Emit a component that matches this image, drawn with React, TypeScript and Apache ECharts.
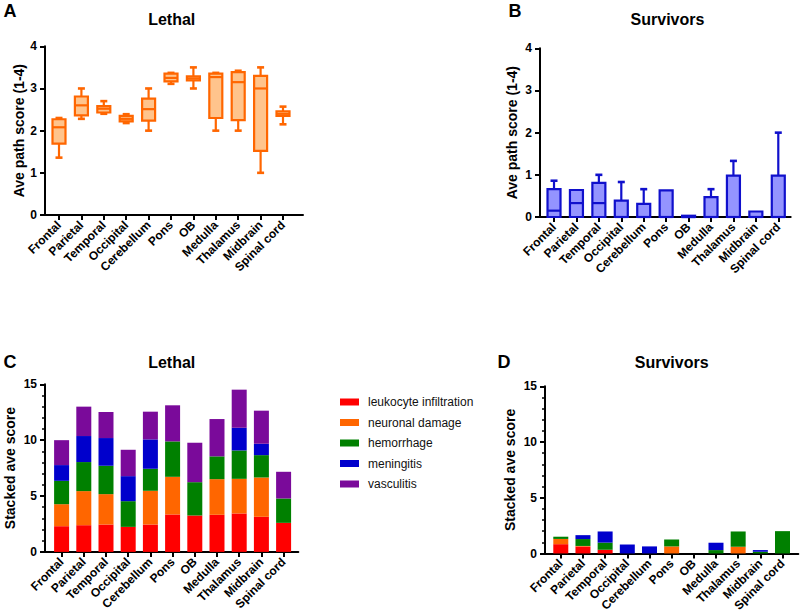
import React, { useEffect, useRef } from "react";
import * as echarts from "echarts";

const regions = ["Frontal", "Parietal", "Temporal", "Occipital", "Cerebellum", "Pons", "OB", "Medulla", "Thalamus", "Midbrain", "Spinal cord"];

// [min, q1, median, q3, max]
const lethalBox = [
  [1.36, 1.69, 2.08, 2.27, 2.3],
  [2.28, 2.36, 2.6, 2.81, 3.0],
  [2.4, 2.43, 2.52, 2.58, 2.7],
  [2.18, 2.22, 2.28, 2.35, 2.39],
  [2.0, 2.24, 2.51, 2.76, 3.0],
  [3.11, 3.17, 3.25, 3.35, 3.37],
  [3.0, 3.19, 3.24, 3.29, 3.5],
  [2.0, 2.3, 3.27, 3.35, 3.37],
  [2.0, 2.25, 3.15, 3.39, 3.42],
  [1.0, 1.52, 3.0, 3.3, 3.5],
  [2.15, 2.35, 2.4, 2.46, 2.57],
];
const survivorBox = [
  [0, 0, 0.15, 0.66, 0.86],
  [0, 0, 0.33, 0.64, 0.64],
  [0, 0, 0.33, 0.81, 1.0],
  [0, 0, 0, 0.39, 0.83],
  [0, 0, 0, 0.31, 0.66],
  [0, 0, 0, 0.63, 0.63],
  [0, 0, 0, 0.03, 0.03],
  [0, 0, 0, 0.47, 0.66],
  [0, 0, 0, 0.98, 1.33],
  [0, 0, 0, 0.13, 0.13],
  [0, 0, 0, 0.98, 2.0],
];

const pathology = ["leukocyte infiltration", "neuronal damage", "hemorrhage", "meningitis", "vasculitis"];
const pathColors = ["#FF0000", "#FF6600", "#008000", "#0000CC", "#7A0A9A"];

const lethalLeukocyte = [2.3, 2.39, 2.45, 2.24, 2.45, 3.35, 3.26, 3.32, 3.44, 3.14, 2.6];
const lethalNeuronal = [1.97, 3.05, 2.72, 0, 3.02, 3.37, 0, 3.19, 3.1, 3.52, 0];
const lethalHemorrhage = [2.09, 2.6, 2.54, 2.3, 1.97, 3.17, 2.98, 2.04, 2.54, 2.0, 2.18];
const lethalMeningitis = [1.41, 2.33, 2.48, 2.24, 2.63, 0, 0, 0, 2.03, 1.02, 0];
const lethalVasculitis = [2.23, 2.63, 2.33, 2.36, 2.48, 3.23, 3.53, 3.34, 3.41, 2.96, 2.39];

const survLeukocyte = [0.83, 0.62, 0.33, 0, 0, 0, 0, 0, 0, 0, 0];
const survNeuronal = [0.47, 0.05, 0, 0, 0, 0.63, 0, 0, 0.6, 0, 0];
const survHemorrhage = [0.2, 0.62, 0.64, 0, 0, 0.62, 0, 0.3, 1.37, 0.15, 2.0];
const survMeningitis = [0, 0.35, 1.0, 0.8, 0.63, 0, 0, 0.66, 0, 0.15, 0];
const survVasculitis = [0, 0, 0, 0, 0, 0, 0, 0, 0, 0, 0];

const FONT = "'Liberation Sans', Arial, sans-serif";

export default function App() {
  const ref = useRef<HTMLDivElement>(null);
  useEffect(() => {
    if (!ref.current) return;
    const chart = echarts.init(ref.current, null, { renderer: "svg" });

    const frames = [
      { left: 45, top: 46.3, width: 258, height: 168.7 },
      { left: 540, top: 48.3, width: 250.7, height: 168.7 },
      { left: 45, top: 384.3, width: 253.3, height: 167.6 },
      { left: 545, top: 386.3, width: 253.3, height: 167.2 },
    ];
    const datas = [
      { left: 47.8, top: 46.3, width: 246.4, height: 168.7 },
      { left: 542.8, top: 48.3, width: 246.7, height: 168.7 },
      { left: 50.5, top: 384.3, width: 244.2, height: 167.6 },
      { left: 549.7, top: 386.3, width: 243.9, height: 167.2 },
    ];
    const yMax = [4, 4, 15, 15];
    const yInt = [1, 1, 5, 5];
    const yNames = ["Ave path score (1-4)", "Ave path score (1-4)", "Stacked ave score", "Stacked ave score"];
    const nameGaps = [19, 21, 28, 28];

    const grid: any[] = [];
    const xAxis: any[] = [];
    const yAxis: any[] = [];
    for (let i = 0; i < 4; i++) {
      grid.push(frames[i]);
      grid.push(datas[i]);
      xAxis.push({
        gridIndex: 2 * i, type: "value", min: 0, max: 1,
        axisLine: { show: true, lineStyle: { color: "#000", width: 2 } },
        axisTick: { show: false }, axisLabel: { show: false }, splitLine: { show: false },
      });
      yAxis.push({
        gridIndex: 2 * i, type: "value", min: 0, max: yMax[i], interval: yInt[i],
        name: yNames[i], nameLocation: "middle", nameGap: nameGaps[i],
        nameTextStyle: { fontFamily: FONT, fontWeight: "bold", fontSize: 14, color: "#000" },
        axisLine: { show: true, lineStyle: { color: "#000", width: 2 } },
        axisTick: { show: true, length: 5, lineStyle: { color: "#000", width: 2 } },
        minorTick: { show: i >= 2, splitNumber: 5, length: 3, lineStyle: { color: "#000", width: 1.5 } },
        axisLabel: { fontFamily: FONT, fontWeight: "bold", fontSize: 12, color: "#000", margin: 8 },
        splitLine: { show: false },
      });
      xAxis.push({
        gridIndex: 2 * i + 1, type: "category", data: regions, boundaryGap: true,
        axisLine: { show: false },
        axisTick: { show: true, alignWithLabel: true, length: 5, lineStyle: { color: "#000", width: 2 } },
        axisLabel: { rotate: 45, interval: 0, fontFamily: FONT, fontWeight: "bold", fontSize: 12, color: "#000", margin: 8 },
        splitLine: { show: false },
      });
      yAxis.push({ gridIndex: 2 * i + 1, type: "value", min: 0, max: yMax[i], show: false, splitLine: { show: false } });
    }

    const boxSeries = (data: number[][], axisIdx: number, stroke: string, fill: string) => ({
      type: "custom",
      xAxisIndex: axisIdx, yAxisIndex: axisIdx,
      dimensions: ["x", "min", "q1", "med", "q3", "max"],
      encode: { x: 0, y: [1, 2, 3, 4, 5] },
      data: data.map((d, i) => [i, ...d]),
      renderItem: (params: any, api: any) => {
        const x = api.value(0);
        const lo = api.coord([x, api.value(1)]);
        const q1 = api.coord([x, api.value(2)]);
        const md = api.coord([x, api.value(3)]);
        const q3 = api.coord([x, api.value(4)]);
        const hi = api.coord([x, api.value(5)]);
        const cx = lo[0];
        const bw = 13;
        const cw = 7;
        const ls = { stroke, lineWidth: 2.2 };
        const children: any[] = [];
        if (hi[1] < q3[1] - 0.5) {
          children.push({ type: "line", shape: { x1: cx, y1: q3[1], x2: cx, y2: hi[1] }, style: ls });
          children.push({ type: "line", shape: { x1: cx - cw / 2, y1: hi[1], x2: cx + cw / 2, y2: hi[1] }, style: { stroke, lineWidth: 2.6 } });
        }
        if (lo[1] > q1[1] + 0.5) {
          children.push({ type: "line", shape: { x1: cx, y1: q1[1], x2: cx, y2: lo[1] }, style: ls });
          children.push({ type: "line", shape: { x1: cx - cw / 2, y1: lo[1], x2: cx + cw / 2, y2: lo[1] }, style: { stroke, lineWidth: 2.6 } });
        }
        children.push({ type: "rect", shape: { x: cx - bw / 2, y: q3[1], width: bw, height: Math.max(q1[1] - q3[1], 0.5) }, style: { fill, stroke, lineWidth: 2.2 } });
        children.push({ type: "line", shape: { x1: cx - bw / 2, y1: md[1], x2: cx + bw / 2, y2: md[1] }, style: ls });
        return { type: "group", children };
      },
    });

    const lethalStacks = [lethalLeukocyte, lethalNeuronal, lethalHemorrhage, lethalMeningitis, lethalVasculitis];
    const survStacks = [survLeukocyte, survNeuronal, survHemorrhage, survMeningitis, survVasculitis];
    const barSeries: any[] = [];
    lethalStacks.forEach((arr, k) => {
      barSeries.push({ type: "bar", name: pathology[k], stack: "lethal", xAxisIndex: 5, yAxisIndex: 5, barWidth: 15, data: arr, itemStyle: { color: pathColors[k] } });
    });
    survStacks.forEach((arr, k) => {
      barSeries.push({ type: "bar", name: pathology[k], stack: "surv", xAxisIndex: 7, yAxisIndex: 7, barWidth: 15, data: arr, itemStyle: { color: pathColors[k] } });
    });

    const txt = (text: string, x: number, y: number, size: number) => ({
      type: "text", x, y,
      style: { text, font: `bold ${size}px ${FONT}`, fill: "#000", textAlign: "center", textVerticalAlign: "middle" },
    });

    chart.setOption({
      animation: false,
      backgroundColor: "#fff",
      grid,
      xAxis,
      yAxis,
      legend: {
        data: pathology,
        orient: "vertical",
        left: 340,
        top: 395,
        padding: 0,
        itemWidth: 19,
        itemHeight: 7,
        itemGap: 6.5,
        icon: "rect",
        textStyle: { fontFamily: FONT, fontSize: 12, color: "#111", padding: [0, 0, 0, 4], lineHeight: 14 },
      },
      graphic: [
        txt("A", 10, 11, 18),
        txt("B", 515, 11, 18),
        txt("C", 10, 362, 18),
        txt("D", 504, 362, 18),
        txt("Lethal", 171.7, 19, 16),
        txt("Survivors", 667.5, 19.5, 16),
        txt("Lethal", 171.7, 362, 16),
        txt("Survivors", 671.7, 362, 16),
      ],
      series: [
        boxSeries(lethalBox, 1, "#FF6600", "#FFC48C"),
        boxSeries(survivorBox, 3, "#1010CC", "#9494FF"),
        ...barSeries,
      ],
    });
    return () => chart.dispose();
  }, []);
  return <div ref={ref} style={{ position: "fixed", left: 0, top: 0, width: 800, height: 614 }} />;
}
